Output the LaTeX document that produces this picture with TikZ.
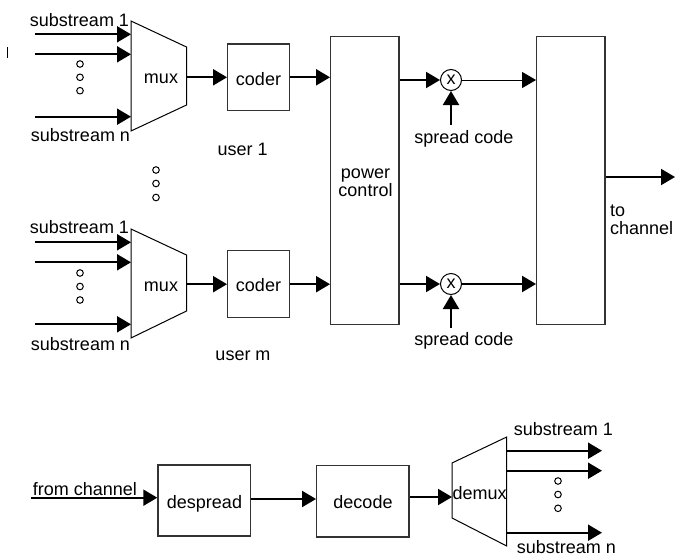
\documentclass[tikz,border=0pt]{standalone}
\usepackage{fontspec}
\setmainfont{Liberation Sans}
\usetikzlibrary{arrows.meta}
\begin{document}
\begin{tikzpicture}[x=1pt,y=-1pt,
  every node/.style={inner sep=0pt, font=\fontsize{18}{17}\selectfont},
  arr/.style={-{Triangle[length=14pt,width=16pt]}, line width=2pt},
  thinarr/.style={-{Triangle[length=14pt,width=16pt]}, line width=1pt},
  blk/.style={draw=black!80, line width=1.3pt, minimum width=#1},
  trap/.style={draw, line width=1pt},
  dotc/.style={draw, line width=1pt, circle, minimum size=6.6pt},
  mult/.style={draw, line width=1pt, circle, minimum size=21pt}]
\useasboundingbox (0,0) rectangle (675,557);

% stray mark
\draw[line width=0.8pt] (7,47) -- (7,58);

% ---------- user 1 ----------
\draw[trap] (131,21) -- (186.5,47) -- (186.5,105) -- (131,131) -- cycle;
\node[anchor=base] (mux1) at (161,83) {mux};
\coordinate (mux1in1) at (131,34.3);
\coordinate (mux1in2) at (131,54.3);
\coordinate (mux1in3) at (131,116.7);
\coordinate (mux1out) at (186.5,77.3);
\coordinate (s1a) at (35,34.3);
\coordinate (s1b) at (35,54.3);
\coordinate (s1c) at (35,116.7);
\draw[arr] (s1a) -- (mux1in1);
\draw[arr] (s1b) -- (mux1in2);
\draw[arr] (s1c) -- (mux1in3);
\node[dotc] (d1a) at (80,64) {};
\node[dotc] (d1b) at (80,77.3) {};
\node[dotc] (d1c) at (80,90.7) {};
\node[anchor=base] (lab1a) at (79.5,26) {substream 1};
\node[anchor=base] (lab1n) at (80.5,141.7) {substream n};

\node[blk=61.6pt, minimum height=66.7pt] (coder1) at (258.5,77.3) {};
\node[anchor=base] (coder1t) at (258.5,85) {coder};
\draw[arr] (mux1out) -- (coder1.west);
\node[anchor=base] (user1) at (242.7,155) {user 1};

% vertical dots between users
\node[dotc] (v1) at (156,170) {};
\node[dotc] (v2) at (156,183.5) {};
\node[dotc] (v3) at (156,197.5) {};

% ---------- user m ----------
\draw[trap] (131,229) -- (186.5,255) -- (186.5,311) -- (131,338) -- cycle;
\node[anchor=base] (mux2) at (161,291.5) {mux};
\coordinate (mux2in1) at (131,242.3);
\coordinate (mux2in2) at (131,262.3);
\coordinate (mux2in3) at (131,324.3);
\coordinate (mux2out) at (186.5,284.2);
\coordinate (s2a) at (35,242.3);
\coordinate (s2b) at (35,262.3);
\coordinate (s2c) at (35,324.3);
\draw[arr] (s2a) -- (mux2in1);
\draw[arr] (s2b) -- (mux2in2);
\draw[arr] (s2c) -- (mux2in3);
\node[dotc] (d2a) at (80,273) {};
\node[dotc] (d2b) at (80,286.5) {};
\node[dotc] (d2c) at (80,300) {};
\node[anchor=base] (lab2a) at (79.5,233) {substream 1};
\node[anchor=base] (lab2n) at (80.5,350) {substream n};

\node[blk=61.6pt, minimum height=67pt] (coder2) at (258.5,284.2) {};
\node[anchor=base] (coder2t) at (258.5,291.7) {coder};
\draw[arr] (mux2out) -- (coder2.west);
\node[anchor=base] (userm) at (243,360) {user m};

% ---------- power control ----------
\node[blk=68.3pt, minimum height=287.6pt] (power) at (364.85,180.5) {};
\node[align=center, font=\fontsize{18}{16.5}\selectfont] (powert) at (365.5,183) {power\\control};
\draw[arr] (coder1.east) -- (coder1.east -| power.west);
\draw[arr] (coder2.east) -- (coder2.east -| power.west);

% multipliers
\node[mult] (m1) at (451,80) {x};
\node[mult] (m2) at (451,284) {x};
\draw[arr] (m1.west -| power.east) -- (m1.west);
\draw[arr] (m2.west -| power.east) -- (m2.west);
\coordinate (sc1) at (451,125);
\coordinate (sc2) at (451,328);
\draw[arr] (sc1) -- (m1.south);
\draw[arr] (sc2) -- (m2.south);
\node[anchor=base] (sc1t) at (464,143.3) {spread code};
\node[anchor=base] (sc2t) at (464,345) {spread code};

% ---------- combiner ----------
\node[blk=68.3pt, minimum height=287.6pt] (comb) at (570.85,180.5) {};
\draw[thinarr] (m1.east) -- (m1.east -| comb.west);
\draw[arr] (m2.east) -- (m2.east -| comb.west);
\coordinate (y5) at (0,177);
\coordinate (chout) at (675,177);
\draw[arr] (comb.east |- y5) -- (chout);
\node[align=left, anchor=west, font=\fontsize{18}{18.3}\selectfont] (tochan) at (610,220) {to\\channel};

% ---------- receiver ----------
\node[blk=92.7pt, minimum height=71pt] (desp) at (204.3,500.5) {};
\node[anchor=base] (despt) at (204.5,508.3) {despread};
\node[blk=92.3pt, minimum height=71.3pt] (dec) at (362.85,501.35) {};
\node[anchor=base] (dect) at (363,508.3) {decode};
\coordinate (fc) at (31,497.7);
\draw[arr] (fc) -- (fc -| desp.west);
\node[anchor=base] (fct) at (85,495) {from channel};
\draw[arr] (desp.east |- 0,499) -- (dec.west |- 0,499);

\draw[trap] (452,463) -- (506.7,437) -- (506.7,546) -- (452,518) -- cycle;
\node[anchor=base] (demux) at (479.7,499.3) {demux};
\coordinate (demin) at (452,497);
\draw[arr] (dec.east |- demin) -- (demin);
\coordinate (do1) at (506.7,450.7);
\coordinate (do2) at (506.7,470.7);
\coordinate (do3) at (506.7,532.7);
\coordinate (e1) at (602,450.7);
\coordinate (e2) at (602,470.7);
\coordinate (e3) at (602,532.7);
\draw[arr] (do1) -- (e1);
\draw[arr] (do2) -- (e2);
\draw[arr] (do3) -- (e3);
\node[dotc] (d3a) at (558,481) {};
\node[dotc] (d3b) at (558,494.5) {};
\node[dotc] (d3c) at (558,508.3) {};
\node[anchor=base] (lab3a) at (563.3,435) {substream 1};
\node[anchor=base] (lab3n) at (566.3,553) {substream n};
\end{tikzpicture}
\end{document}
